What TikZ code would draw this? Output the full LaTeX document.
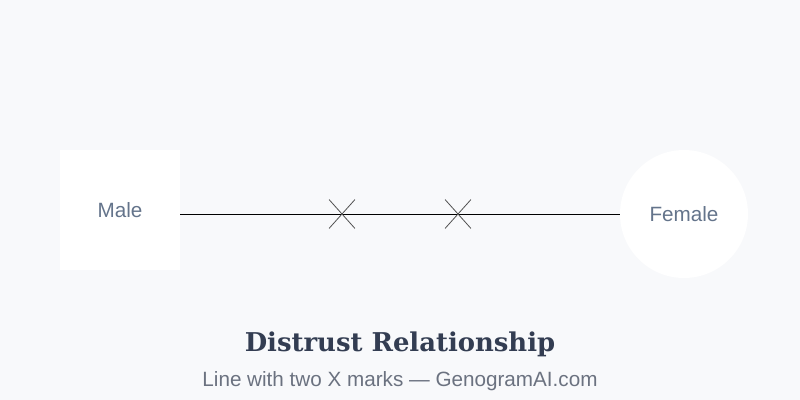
\documentclass[tikz,border=0pt]{standalone}
\usepackage{fontspec}
\setmainfont{Liberation Sans}
\newfontfamily\titlefont{DejaVu Serif}
\usetikzlibrary{shapes.misc}
\definecolor{bgcol}{RGB}{248,249,251}
\definecolor{labelcol}{RGB}{100,116,139}
\definecolor{titlecol}{RGB}{51,61,82}
\definecolor{subcol}{RGB}{107,114,128}
\definecolor{markcol}{RGB}{80,80,80}
\tikzset{
  person/.style={fill=white, draw=none, text=labelcol, inner sep=0pt, font=\fontsize{15.5}{18}\selectfont},
  male/.style={person, rectangle, minimum size=90pt},
  female/.style={person, circle, minimum size=96pt},
  distrust mark/.style={cross out, draw=markcol, line width=0.6pt, inner sep=0pt, minimum width=18.75pt, minimum height=21pt}
}
\begin{document}
\begin{tikzpicture}[x=0.75pt, y=-0.75pt, line join=round]
  \fill[bgcol] (0,0) rectangle (800,400);
  \useasboundingbox (0,0) rectangle (800,400);
  \node[male] (male) at (120,210) {\raisebox{-1.5pt}{Male}};
  \node[female] (female) at (684,214) {Female};
  \draw[line width=0.75pt] (male.east |- female.west) -- (female.west);
  \node[distrust mark] (mark1) at (342,214) {};
  \node[distrust mark] (mark2) at (458,214) {};
  \node[anchor=base, text=titlecol, font=\titlefont\bfseries\fontsize{19.4}{23}\selectfont] (title) at (400,351) {Distrust Relationship};
  \node[anchor=base, text=subcol, font=\fontsize{15.5}{18}\selectfont] (subtitle) at (400,386) {Line with two X marks — GenogramAI.com};
\end{tikzpicture}
\end{document}
